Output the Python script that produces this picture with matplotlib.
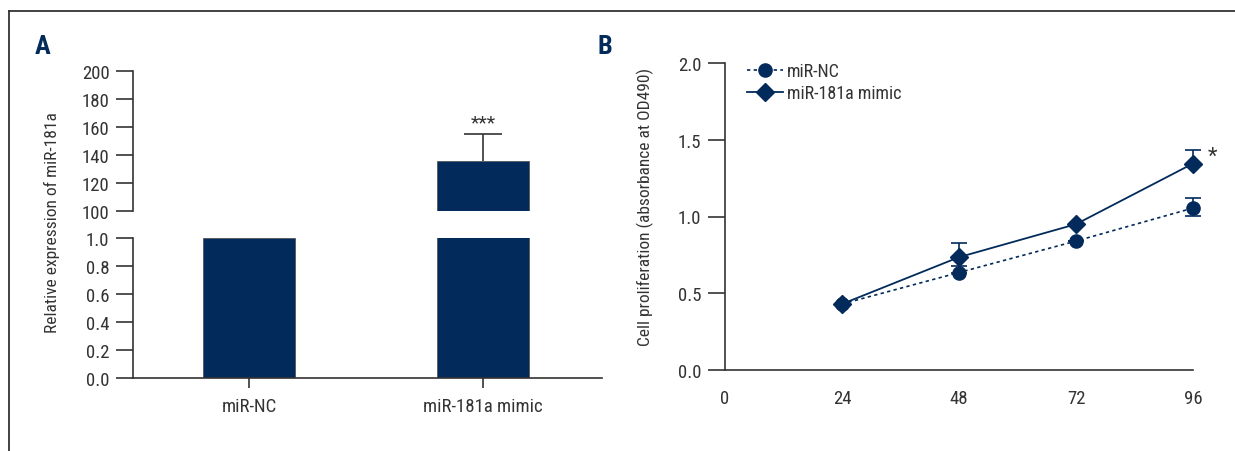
import numpy as np
import matplotlib
matplotlib.use('Agg')
import matplotlib.pyplot as plt
from matplotlib.lines import Line2D

plt.rcParams['font.family'] = ['Roboto Condensed', 'DejaVu Sans']
plt.rcParams['font.stretch'] = 'condensed'
plt.rcParams['font.size'] = 13

NAVY = '#022a5b'
TXT = '#333333'

# panel A data
groups = ['miR-NC', 'miR-181a mimic']
expr = [1.0, 136.0]
expr_err = [0.0, 19.0]

# panel B data
hours = [24, 48, 72, 96]
nc = [0.43, 0.635, 0.84, 1.055]
nc_err_lo = [0.0, 0.0, 0.0, 0.05]
nc_err_hi = [0.0, 0.045, 0.0, 0.065]
mimic = [0.43, 0.735, 0.95, 1.345]
mimic_err_hi = [0.0, 0.095, 0.0, 0.09]
mimic_err_lo = [0.0, 0.0, 0.0, 0.0]

W, H = 1235, 452
fig = plt.figure(figsize=(W / 100, H / 100), dpi=100)

def fx(px):
    return px / W

def fy(py):
    return 1 - py / H

# frame lines (top and left)
fig.add_artist(Line2D([fx(9), 1], [fy(12), fy(12)], color=TXT, lw=1.3))
fig.add_artist(Line2D([fx(9), fx(9)], [fy(12), 0], color=TXT, lw=1.3))

x = np.arange(len(groups))
bw = 0.393
xl = (-0.496, 1.509)
TICK_FS = 13.5

ax_hi = fig.add_axes([fx(133), fy(212), fx(602 - 133), (212 - 72) / H])
ax_lo = fig.add_axes([fx(133), fy(379), fx(602 - 133), (379 - 239) / H])

for ax in (ax_hi, ax_lo):
    ax.bar(x, expr, width=bw, color=NAVY, edgecolor='#555555', linewidth=0.6, zorder=2)
    ax.set_xlim(*xl)
    for s in ('top', 'right'):
        ax.spines[s].set_visible(False)
    ax.spines['left'].set_color(TXT)
    ax.spines['bottom'].set_color(TXT)
    ax.spines['left'].set_linewidth(1.2)
    ax.spines['bottom'].set_linewidth(1.2)
    ax.tick_params(axis='y', length=12, width=1.2, color=TXT, labelcolor=TXT,
                   labelsize=TICK_FS, pad=5)

eb = ax_hi.errorbar(x[1], expr[1], yerr=[[0], [expr_err[1]]], fmt='none', ecolor=TXT,
                    elinewidth=1.2, capsize=14, capthick=1.2, zorder=1)
eb[1][0].set_visible(False)
ax_hi.set_ylim(100, 200)
ax_hi.set_yticks(np.arange(100, 201, 20))
ax_hi.spines['bottom'].set_visible(False)
ax_hi.set_xticks([])
ax_hi.text(x[1], 157, '***', ha='center', va='bottom', fontsize=14, color=TXT)

ax_lo.set_ylim(0, 1.0)
ax_lo.set_yticks(np.arange(0, 1.01, 0.2))
ax_lo.set_yticklabels([f'{v:.1f}' for v in np.arange(0, 1.01, 0.2)])
ax_lo.set_xticks(x)
ax_lo.set_xticklabels(groups)
ax_lo.tick_params(axis='x', length=7, width=1.2, color=TXT, labelcolor=TXT,
                  labelsize=TICK_FS, pad=7)

fig.text(fx(52), fy(223), 'Relative expression of miR-181a', rotation=90,
         ha='center', va='center', fontsize=12.5, color=TXT)
fig.text(fx(43), fy(47), 'A', ha='center', va='center', fontsize=19,
         fontweight='bold', color=NAVY)

# panel B
axb = fig.add_axes([fx(725), fy(371), fx(1193 - 725), (371 - 64) / H])
axb.errorbar(hours, nc, yerr=[nc_err_lo, nc_err_hi], fmt='none', ecolor=NAVY,
             elinewidth=1.2, capsize=6, capthick=1.2, clip_on=False)
axb.errorbar(hours, mimic, yerr=[mimic_err_lo, mimic_err_hi], fmt='none', ecolor=NAVY,
             elinewidth=1.2, capsize=6, capthick=1.2, clip_on=False)
axb.plot(hours, nc, linestyle=(0, (2, 2)), lw=1.2, color=NAVY, marker='o',
         markersize=9.5, label='miR-NC', clip_on=False, zorder=3)
axb.plot(hours, mimic, linestyle='-', lw=1.3, color=NAVY, marker='D',
         markersize=9.5, label='miR-181a mimic', clip_on=False, zorder=4)
axb.set_xlim(0, 96)
axb.set_ylim(0, 2.0)
axb.set_xticks([0, 24, 48, 72, 96])
axb.set_yticks([0, 0.5, 1.0, 1.5, 2.0])
axb.set_yticklabels(['0.0', '0.5', '1.0', '1.5', '2.0'])
for s in ('top', 'right'):
    axb.spines[s].set_visible(False)
for s in ('left', 'bottom'):
    axb.spines[s].set_color(TXT)
    axb.spines[s].set_linewidth(1.2)
axb.tick_params(axis='y', length=12, width=1.2, color=TXT, labelcolor=TXT,
                labelsize=TICK_FS, pad=5)
axb.tick_params(axis='x', length=0, labelcolor=TXT, labelsize=TICK_FS, pad=14)
axb.text(100, 1.39, '*', ha='center', va='center', fontsize=16, color=TXT)
axb.legend(loc='upper left', bbox_to_anchor=(fx(740), fy(56)), bbox_transform=fig.transFigure,
           frameon=False, fontsize=13, handlelength=2.0, handletextpad=0.2, labelspacing=0.2,
           labelcolor=TXT, borderaxespad=0)

fig.text(fx(645), fy(207), 'Cell proliferation (absorbance at OD490)', rotation=90,
         ha='center', va='center', fontsize=12.5, color=TXT)
fig.text(fx(605), fy(47), 'B', ha='center', va='center', fontsize=19,
         fontweight='bold', color=NAVY)

fig.savefig('out.png', dpi=100)
